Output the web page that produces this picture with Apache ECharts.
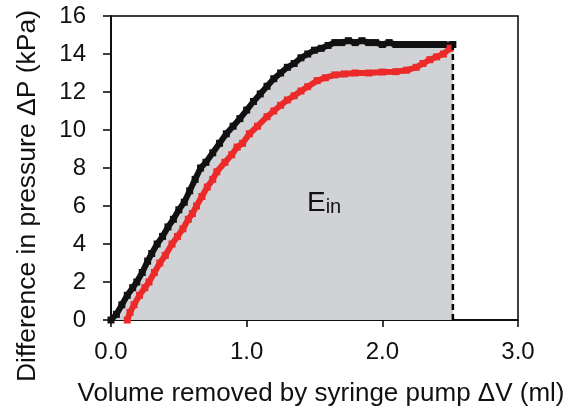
<!DOCTYPE html>
<html><head><meta charset="utf-8">
<script src="https://cdn.jsdelivr.net/npm/echarts@6/dist/echarts.min.js"></script>
<style>html,body{margin:0;padding:0;background:#fff}#c{width:566px;height:413px}</style>
</head><body><div id="c"></div>
<script>
const xTicks = ['0.0','1.0','2.0','3.0'];
const yTicks = [0,2,4,6,8,10,12,14,16];
const xTitle = 'Volume removed by syringe pump ΔV (ml)';
const yTitle = 'Difference in pressure ΔP (kPa)';
const blackV = [0.00,0.04,0.08,0.12,0.16,0.19,0.23,0.27,0.30,0.34,0.38,0.42,0.46,0.50,0.54,0.58,0.62,0.66,0.70,0.75,0.80,0.85,0.90,0.95,1.00,1.05,1.10,1.15,1.20,1.25,1.30,1.35,1.40,1.45,1.50,1.55,1.60,1.65,1.70,1.75,1.80,1.85,1.90,1.95,2.00,2.05,2.10,2.15,2.20,2.25,2.30,2.35,2.40,2.45,2.52];
const blackP = [0.0,0.3,0.8,1.3,1.7,2.0,2.5,3.1,3.5,4.0,4.4,4.9,5.3,5.8,6.2,6.8,7.4,8.0,8.3,8.8,9.3,9.8,10.2,10.6,11.05,11.5,11.9,12.3,12.7,13.0,13.3,13.5,13.8,14.0,14.2,14.3,14.45,14.6,14.6,14.7,14.6,14.7,14.6,14.6,14.5,14.6,14.5,14.5,14.5,14.5,14.5,14.5,14.5,14.5,14.5];
const redV = [0.12,0.14,0.17,0.21,0.25,0.28,0.32,0.36,0.40,0.45,0.49,0.53,0.57,0.60,0.63,0.67,0.71,0.75,0.78,0.84,0.89,0.93,0.97,1.02,1.08,1.15,1.20,1.25,1.30,1.35,1.40,1.45,1.52,1.58,1.65,1.72,1.80,1.90,2.00,2.10,2.18,2.25,2.30,2.35,2.40,2.45,2.50];
const redP = [0.0,0.4,0.8,1.3,1.7,2.0,2.5,3.0,3.4,4.0,4.4,4.8,5.3,5.6,6.0,6.5,7.0,7.4,7.8,8.3,8.7,9.1,9.3,9.8,10.2,10.7,11.0,11.3,11.58,11.8,12.05,12.28,12.6,12.75,12.9,12.95,13.0,13.0,13.05,13.07,13.15,13.3,13.5,13.7,13.85,14.0,14.3];
const endV = 2.52, endP = 14.5;

const font = 'Liberation Sans, Arial, sans-serif';
const chart = echarts.init(document.getElementById('c'), null, {renderer:'canvas'});
chart.setOption({
  animation:false,
  backgroundColor:'#fff',
  grid:{left:111,top:16,right:48,bottom:93,containLabel:false,outerBoundsMode:'none',show:true,borderColor:'#000',borderWidth:1.5,backgroundColor:'transparent'},
  title:{text:'{e|E}{s|in}',left:302,top:184,textStyle:{fontWeight:'normal',rich:{e:{fontSize:28,fontFamily:font,fontWeight:'normal',color:'#111',verticalAlign:'bottom'},s:{fontSize:20,fontFamily:font,fontWeight:'normal',color:'#111',verticalAlign:'bottom'}}}},
  graphic:[
    {type:'text',x:321,y:394,style:{text:xTitle,font:'26px '+font,fill:'#111',align:'center',verticalAlign:'middle'}},
    {type:'text',x:28,y:196,rotation:Math.PI/2,style:{text:yTitle,font:'26.5px '+font,fill:'#111',align:'center',verticalAlign:'middle'}}
  ],
  xAxis:{type:'value',min:0,max:3,interval:1,
    axisLine:{lineStyle:{color:'#000',width:1.5}},
    axisTick:{inside:false,length:7,lineStyle:{color:'#000',width:1.5}},
    axisLabel:{fontSize:24,fontFamily:font,color:'#111',margin:20,formatter:v=>xTicks[Math.round(v)]},
    splitLine:{show:false}},
  yAxis:{type:'value',min:0,max:16,interval:2,
    axisLine:{show:true,lineStyle:{color:'#000',width:1.5}},
    axisTick:{show:true,length:8,lineStyle:{color:'#000',width:1.5}},
    axisLabel:{fontSize:24,fontFamily:font,color:'#111',margin:25,formatter:v=>yTicks.includes(v)?String(v):''},
    splitLine:{show:false}},
  series:[
    {type:'line',data:blackV.map((v,i)=>[v,blackP[i]]),symbol:'rect',symbolSize:7,showAllSymbol:true,
     lineStyle:{color:'#111',width:6},itemStyle:{color:'#111'},
     areaStyle:{color:'#d1d2d6',opacity:1,origin:'start'},z:2},
    {type:'line',data:redV.map((v,i)=>[v,redP[i]]),symbol:'rect',symbolSize:7,showAllSymbol:true,
     lineStyle:{color:'#ec2a2a',width:6},itemStyle:{color:'#ec2a2a'},z:3},
    {type:'line',data:[[endV,0],[endV,endP]],symbol:'none',
     lineStyle:{color:'#000',width:2.5,type:[6,4]},z:4}
  ]
});
</script></body></html>
